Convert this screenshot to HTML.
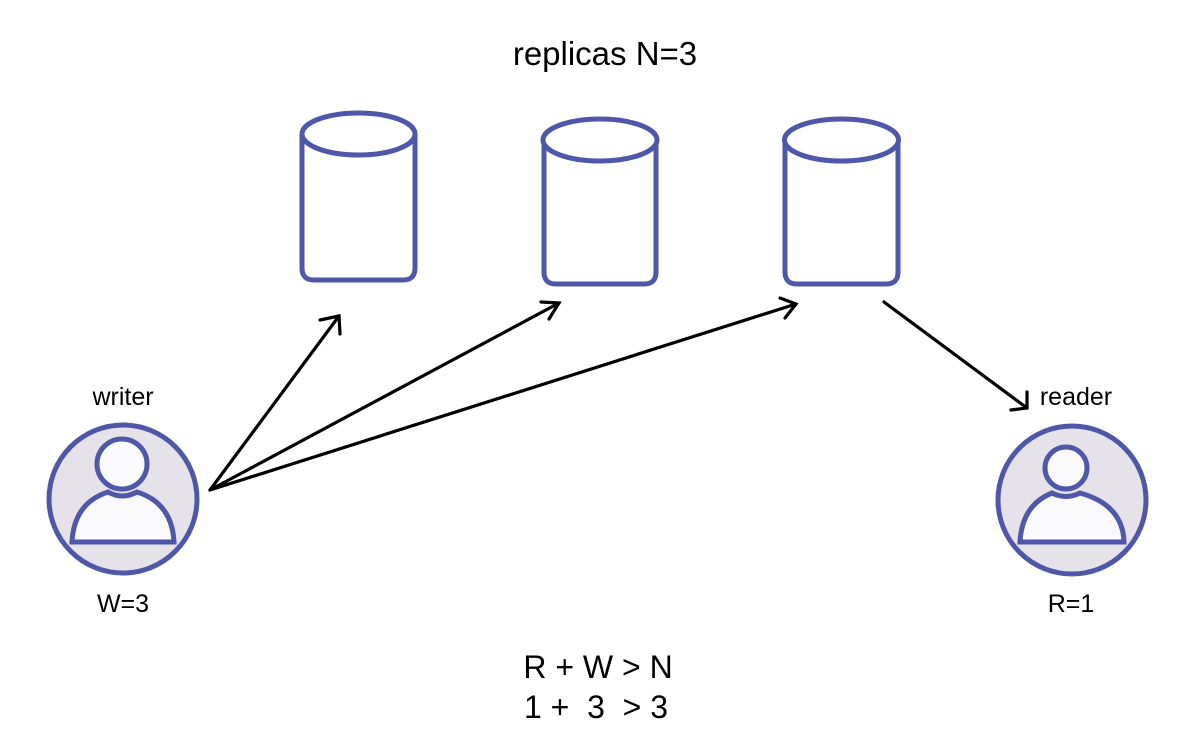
<!DOCTYPE html>
<html><head><meta charset="utf-8"><style>body{margin:0;background:#fff}svg{display:block}</style></head>
<body>
<svg width="1200" height="742" viewBox="0 0 1200 742" xmlns="http://www.w3.org/2000/svg" font-family="Liberation Sans, sans-serif">
<rect width="1200" height="742" fill="#fff"/>
<g fill="none" stroke="#4f57a8" stroke-width="5">
  <path d="M302,134 L302,268 Q302,280 314,280 L403,280 Q415,280 415,268 L415,134"/>
  <ellipse cx="358.5" cy="134" rx="56.5" ry="21" fill="#fff"/>
  <path d="M544,140 L544,272 Q544,284 556,284 L644,284 Q656,284 656,272 L656,140"/>
  <ellipse cx="600" cy="140" rx="57" ry="21" fill="#fff"/>
  <path d="M785,140 L785,272 Q785,284 797,284 L886,284 Q898,284 898,272 L898,140"/>
  <ellipse cx="841.5" cy="140" rx="57" ry="21" fill="#fff"/>

  <circle cx="123" cy="499" r="74" fill="#e6e2ea"/>
  <circle cx="122" cy="464" r="25" fill="#fafafd"/>
  <path d="M72,542 Q74,503 108,492 Q122,500 137,492 Q172,503 174,542 Z" fill="#fafafd"/>

  <circle cx="1072" cy="500" r="74" fill="#e6e2ea"/>
  <circle cx="1066" cy="468" r="21" fill="#fafafd"/>
  <path d="M1020,542 Q1022,505 1052,493 Q1066,500 1080,493 Q1123,505 1124,542 Z" fill="#fafafd"/>
</g>
<g stroke="#000" stroke-width="3.2" fill="none" stroke-linecap="round">
  <line x1="210" y1="490" x2="339" y2="316"/>
  <polyline points="320,320 339,316 340,334"/>
  <line x1="210" y1="490" x2="559" y2="303"/>
  <polyline points="541,302 559,303 549,319"/>
  <line x1="210" y1="490" x2="796" y2="304"/>
  <polyline points="780,298 796,304 785,318"/>
  <line x1="884" y1="302" x2="1027" y2="408"/>
  <polyline points="1011,410 1027,408 1027,392"/>
</g>
<g fill="#000" text-anchor="middle">
  <text x="605" y="65" font-size="33">replicas N=3</text>
  <text x="123" y="405" font-size="25">writer</text>
  <text x="123" y="612" font-size="25">W=3</text>
  <text x="1076" y="405" font-size="25">reader</text>
  <text x="1071" y="612" font-size="25">R=1</text>
  <text x="598" y="678" font-size="32" xml:space="preserve">R + W &gt; N</text>
  <text x="596" y="718" font-size="32" xml:space="preserve">1 +  3  &gt; 3</text>
</g>
</svg>
</body></html>
